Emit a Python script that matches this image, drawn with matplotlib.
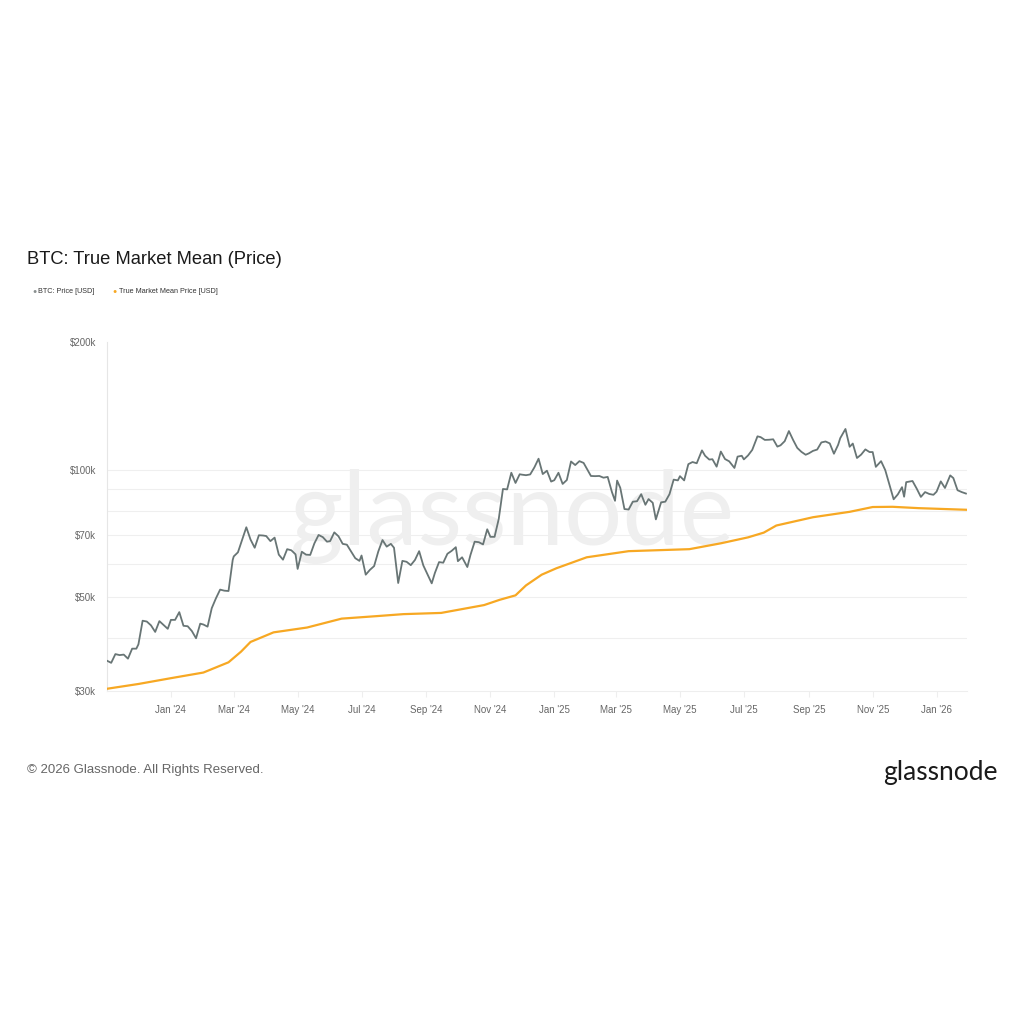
import matplotlib
matplotlib.use("Agg")
import matplotlib.pyplot as plt
import matplotlib.dates as mdates
import matplotlib.ticker as mticker
import pandas as pd

# BTC price (USD, thousands), every 4 days
price_dates = [
    "2023-11-01", "2023-11-05", "2023-11-09", "2023-11-13", "2023-11-17", "2023-11-21", "2023-11-25", "2023-11-29",
    "2023-12-01", "2023-12-05", "2023-12-09", "2023-12-13", "2023-12-17", "2023-12-21", "2023-12-25", "2023-12-29",
    "2024-01-01", "2024-01-05", "2024-01-09", "2024-01-13", "2024-01-17", "2024-01-21", "2024-01-25", "2024-01-29",
    "2024-02-01", "2024-02-05", "2024-02-09", "2024-02-13", "2024-02-17", "2024-02-21", "2024-02-25", "2024-02-29",
    "2024-03-01", "2024-03-05", "2024-03-09", "2024-03-13", "2024-03-17", "2024-03-21", "2024-03-25", "2024-03-29",
    "2024-04-01", "2024-04-05", "2024-04-09", "2024-04-13", "2024-04-17", "2024-04-21", "2024-04-25", "2024-04-29",
    "2024-05-01", "2024-05-05", "2024-05-09", "2024-05-13", "2024-05-17", "2024-05-21", "2024-05-25", "2024-05-29",
    "2024-06-01", "2024-06-05", "2024-06-09", "2024-06-13", "2024-06-17", "2024-06-21", "2024-06-25", "2024-06-29",
    "2024-07-01", "2024-07-05", "2024-07-09", "2024-07-13", "2024-07-17", "2024-07-21", "2024-07-25", "2024-07-29",
    "2024-08-01", "2024-08-05", "2024-08-09", "2024-08-13", "2024-08-17", "2024-08-21", "2024-08-25", "2024-08-29",
    "2024-09-01", "2024-09-06", "2024-09-09", "2024-09-13", "2024-09-17", "2024-09-21", "2024-09-25", "2024-09-29",
    "2024-10-01", "2024-10-05", "2024-10-10", "2024-10-13", "2024-10-17", "2024-10-21", "2024-10-25", "2024-10-29",
    "2024-11-01", "2024-11-05", "2024-11-09", "2024-11-13", "2024-11-17", "2024-11-21", "2024-11-25", "2024-11-29",
    "2024-12-01", "2024-12-05", "2024-12-09", "2024-12-13", "2024-12-17", "2024-12-21", "2024-12-25", "2024-12-29",
    "2025-01-01", "2025-01-05", "2025-01-09", "2025-01-13", "2025-01-17", "2025-01-21", "2025-01-25", "2025-01-29",
    "2025-02-01", "2025-02-05", "2025-02-09", "2025-02-13", "2025-02-17", "2025-02-21", "2025-02-25", "2025-02-28",
    "2025-03-02", "2025-03-05", "2025-03-09", "2025-03-13", "2025-03-17", "2025-03-21", "2025-03-25", "2025-03-29",
    "2025-04-01", "2025-04-05", "2025-04-08", "2025-04-13", "2025-04-17", "2025-04-21", "2025-04-25", "2025-04-29",
    "2025-05-01", "2025-05-05", "2025-05-09", "2025-05-13", "2025-05-17", "2025-05-22", "2025-05-25", "2025-05-29",
    "2025-06-01", "2025-06-05", "2025-06-09", "2025-06-13", "2025-06-17", "2025-06-22", "2025-06-25", "2025-06-29",
    "2025-07-01", "2025-07-05", "2025-07-09", "2025-07-14", "2025-07-17", "2025-07-21", "2025-07-25", "2025-07-29",
    "2025-08-02", "2025-08-05", "2025-08-09", "2025-08-13", "2025-08-17", "2025-08-21", "2025-08-25", "2025-08-29",
    "2025-09-01", "2025-09-05", "2025-09-09", "2025-09-13", "2025-09-17", "2025-09-21", "2025-09-25", "2025-09-29",
    "2025-10-01", "2025-10-06", "2025-10-10", "2025-10-13", "2025-10-17", "2025-10-21", "2025-10-25", "2025-10-29",
    "2025-11-01", "2025-11-04", "2025-11-09", "2025-11-13", "2025-11-17", "2025-11-21", "2025-11-25", "2025-11-29",
    "2025-12-01", "2025-12-03", "2025-12-09", "2025-12-13", "2025-12-17", "2025-12-21", "2025-12-25", "2025-12-29",
    "2026-01-01", "2026-01-05", "2026-01-09", "2026-01-14", "2026-01-17", "2026-01-21", "2026-01-25", "2026-01-29",
]
price_values = [
    35.4, 35.0, 36.7, 36.5, 36.6, 35.8, 37.8, 37.8,
    38.7, 44.0, 43.8, 42.9, 41.4, 43.9, 43.0, 42.1,
    44.2, 44.2, 46.1, 42.8, 42.7, 41.6, 40.0, 43.3,
    43.1, 42.6, 47.1, 49.7, 52.1, 51.8, 51.7, 61.2,
    62.4, 63.8, 68.3, 73.1, 68.4, 65.4, 70.0, 69.9,
    69.7, 67.8, 69.1, 63.0, 61.3, 64.9, 64.5, 63.1,
    58.3, 64.0, 63.0, 62.9, 67.0, 70.1, 69.3, 67.6,
    67.8, 71.1, 69.6, 66.8, 66.5, 64.1, 61.8, 60.9,
    62.7, 56.5, 58.0, 59.2, 64.1, 68.2, 65.8, 66.8,
    65.4, 54.0, 60.9, 60.6, 59.5, 61.2, 64.2, 59.4,
    57.3, 53.9, 57.0, 60.5, 60.3, 63.3, 64.3, 65.6,
    60.8, 62.1, 58.9, 62.9, 67.6, 67.4, 66.6, 72.3,
    69.4, 69.4, 76.5, 90.0, 89.8, 98.3, 93.0, 97.5,
    97.3, 97.0, 97.4, 101.2, 106.1, 97.6, 99.4, 93.7,
    94.4, 98.3, 92.5, 94.5, 104.5, 102.5, 104.7, 103.7,
    100.6, 96.6, 96.5, 96.6, 95.7, 96.1, 88.6, 84.4,
    94.2, 90.6, 80.7, 80.5, 84.0, 84.2, 87.5, 82.6,
    85.2, 83.5, 76.3, 83.7, 84.0, 87.5, 94.7, 94.3,
    96.5, 94.3, 103.0, 104.2, 103.5, 111.0, 107.8, 105.6,
    105.8, 101.6, 110.3, 105.9, 104.6, 100.9, 107.3, 107.8,
    105.7, 108.0, 111.3, 119.8, 119.3, 117.5, 117.6, 117.9,
    113.3, 114.1, 116.7, 123.3, 117.5, 112.5, 110.1, 108.4,
    109.2, 110.7, 111.5, 115.9, 116.5, 115.3, 109.0, 114.4,
    118.6, 124.7, 113.2, 115.2, 106.5, 108.5, 111.6, 110.0,
    110.0, 101.5, 104.7, 99.7, 92.2, 85.1, 87.4, 90.9,
    86.3, 93.4, 94.0, 90.2, 86.2, 88.5, 87.6, 87.2,
    88.7, 93.8, 90.5, 96.9, 95.5, 89.4, 88.5, 87.8,
]

# True Market Mean price (USD, thousands)
tmm_dates = [
    "2023-11-01", "2023-12-01", "2024-01-01", "2024-02-01", "2024-02-25", "2024-03-08",
    "2024-03-17", "2024-04-08", "2024-05-10", "2024-06-12", "2024-07-15", "2024-08-10",
    "2024-09-15", "2024-10-26", "2024-11-10", "2024-11-25", "2024-12-05", "2024-12-20",
    "2025-01-03", "2025-02-01", "2025-03-13", "2025-05-10", "2025-06-09", "2025-07-05",
    "2025-07-20", "2025-08-01", "2025-09-05", "2025-10-10", "2025-11-01", "2025-11-20",
    "2025-12-15", "2026-01-29",
]
tmm_values = [
    30.4, 31.2, 32.2, 33.2, 35.1, 37.2,
    39.2, 41.3, 42.4, 44.5, 45.1, 45.6,
    45.9, 47.9, 49.3, 50.5, 53.3, 56.5,
    58.5, 62.1, 64.2, 64.9, 67.0, 69.2,
    71.0, 73.8, 77.2, 79.5, 81.6, 81.7,
    81.1, 80.4,
]

y_ticks = [30, 50, 70, 100, 200]
y_grid = [40, 50, 60, 70, 80, 90, 100]
x_ticks = ["2024-01-01", "2024-03-01", "2024-05-01", "2024-07-01", "2024-09-01", "2024-11-01",
           "2025-01-01", "2025-03-01", "2025-05-01", "2025-07-01", "2025-09-01", "2025-11-01",
           "2026-01-01"]

price = pd.Series(price_values, index=pd.to_datetime(price_dates)) * 1000
tmm = pd.Series(tmm_values, index=pd.to_datetime(tmm_dates)) * 1000

plt.rcParams['font.family'] = ['Liberation Sans', 'DejaVu Sans']

fig = plt.figure(figsize=(10.24, 10.24), dpi=100)
ax = fig.add_axes([0.1045, 0.325, 0.8398, 0.341])

ax.set_yscale('log')
ax.set_ylim(30000, 200000)
ax.set_xlim(pd.Timestamp("2023-11-01"), pd.Timestamp("2026-01-30"))

for g in y_grid:
    ax.axhline(g * 1000, color='#efefef', lw=0.8, zorder=0)

ax.text(0.472, 0.5, 'glassnode', transform=ax.transAxes, ha='center', va='center',
        fontsize=74, color='#efefef', family='Lato', zorder=1)

ax.plot(tmm.index, tmm.values, color='#f7a823', lw=1.6, zorder=3)
ax.plot(price.index, price.values, color='#687575', lw=1.3, zorder=4)

ax.yaxis.set_major_locator(mticker.FixedLocator([v * 1000 for v in y_ticks]))
ax.yaxis.set_minor_locator(mticker.NullLocator())
ax.yaxis.set_major_formatter(mticker.FixedFormatter(['$%dk' % v for v in y_ticks]))
ax.set_xticks(pd.to_datetime(x_ticks))
ax.xaxis.set_major_formatter(mdates.DateFormatter("%b '%y"))

ax.tick_params(axis='x', length=4, width=0.8, color='#eeeeee', labelsize=7,
               labelcolor='#666666', pad=6)
ax.tick_params(axis='y', length=0, labelsize=7, colors='#666666', pad=8)
for s in ['top', 'right']:
    ax.spines[s].set_visible(False)
ax.spines['left'].set_color('#e6e6e6')
ax.spines['bottom'].set_color('#eeeeee')

fig.text(0.026, 0.747, 'BTC: True Market Mean (Price)', fontsize=13.2, color='#1a1a1a',
         ha='left', va='center')
fig.text(0.032, 0.715, '\u25cf', fontsize=5, color='#8a9090', ha='left', va='center')
fig.text(0.037, 0.715, 'BTC: Price [USD]', fontsize=5.2, color='#333333', ha='left', va='center')
fig.text(0.110, 0.715, '\u25cf', fontsize=5, color='#f7a823', ha='left', va='center')
fig.text(0.116, 0.715, 'True Market Mean Price [USD]', fontsize=5.2, color='#333333',
         ha='left', va='center')

fig.text(0.026, 0.248, '\u00a9 2026 Glassnode. All Rights Reserved.', fontsize=9.5,
         color='#666666', ha='left', va='center')
fig.text(0.974, 0.246, 'glassnode', fontsize=19, color='#1a1a1a', ha='right', va='center',
         family='Lato')

fig.savefig('out.png', dpi=100, facecolor='white')
